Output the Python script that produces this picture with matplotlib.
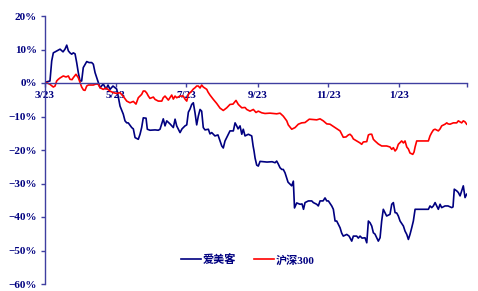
import matplotlib
matplotlib.use('Agg')
import matplotlib.pyplot as plt
import matplotlib.dates as mdates
import pandas as pd
from matplotlib.ticker import FuncFormatter

# 区间起点（累计涨跌幅，%）
start = pd.Timestamp('2021-03-23')
end = pd.Timestamp('2022-03-23')

# 爱美客
imeik_days = [0.9, 4.3, 5.8, 7.2, 10.4, 13, 15.6, 17.3, 18.8, 20.2, 21.6, 23.1, 24.5, 26, 27.4, 28.8,
              30.3, 31.7, 33.1, 36.1, 38.1, 40.4, 41.8, 43.3, 46.1, 47.6, 50.4, 52.8, 54.5, 56.2, 58.8,
              62, 63.1, 64.9, 67.7, 69.2, 70.7, 72, 75, 76.4, 77.9, 80.7, 82.2, 83.6, 85, 87.4, 88.5,
              90.8, 95.2, 98, 99.5, 102.3, 103.8, 105.3, 108.1, 111, 112.5, 113.9, 116.8, 118.5, 121.1,
              122.6, 124, 125.4, 126.9, 128.3, 129.8, 131.2, 132.6, 134.1, 135.5, 136.9, 138.4, 141.3,
              142.7, 144.2, 147, 149.6, 151.4, 152.9, 154.2, 155.7, 158.6, 160, 162.9, 164.4, 165.8,
              167, 168.7, 170.2, 171.5, 173, 175.9, 178.8, 180, 180.8, 181.7, 183.1, 184.5, 186, 188.8,
              192, 196.4, 199, 200.4, 201.8, 203.3, 204.8, 206.1, 207.6, 209.1, 210.2, 211.9, 213.4,
              214.8, 215.8, 217.7, 220.6, 222.3, 223.6, 224.9, 227.8, 230.7, 232.1, 235, 236.4, 237.9,
              240.5, 242.2, 243.7, 245.1, 248, 249.4, 250.9, 252.3, 253.7, 255.2, 256.6, 258, 261, 263,
              265.3, 266.7, 269.6, 271, 272.5, 274.2, 276.8, 278.3, 279.7, 281.1, 282.6, 284, 285.4,
              288.3, 289.8, 291.2, 292.6, 294.1, 295.5, 298.4, 299.9, 301.3, 302.8, 304.2, 305.6, 307.1,
              310, 311.4, 312.9, 314.3, 315.7, 317.2, 318.6, 320.1, 324.4, 328.7, 331.6, 333, 334.5,
              335.9, 337.4, 338.8, 340.2, 341.7, 343.1, 346, 348.6, 351.8, 352.9, 354, 356.1, 357.5,
              359, 360.4, 361.8, 363.3, 364.7]
imeik_ret = [0.3, 0.6, 6.6, 9.0, 9.6, 10.1, 9.3, 10.1, 11.3, 9.6, 9.0, 8.6, 9.0, 8.7, 6.1, 3.1,
             0.6, 0.6, 4.6, 6.4, 6.1, 6.1, 5.6, 3.1, 0.1, -1.4, -0.3, -1.8, -0.6, -1.9, -0.9,
             -1.8, -3.6, -6.9, -9.3, -11.3, -11.9, -11.9, -13.3, -13.7, -16.3, -16.8, -15.3, -13.3, -10.4, -10.5, -13.8,
             -14.1, -14.0, -14.1, -13.8, -10.7, -12.8, -11.3, -12.2, -13.3, -10.8, -12.8, -14.8, -13.7, -12.8,
             -12.5, -8.7, -7.8, -6.4, -5.9, -9.0, -12.5, -9.9, -7.9, -8.4, -13.3, -14.0, -13.8,
             -15.2, -14.8, -15.8, -15.5, -17.3, -18.8, -19.4, -17.3, -15.3, -14.3, -14.3, -11.9, -12.8,
             -13.7, -12.8, -15.3, -13.8, -15.8, -15.3, -15.8, -18.8, -20.3, -22.4, -24.5, -24.8, -23.4, -23.5,
             -23.6, -23.5, -23.8, -23.3, -24.2, -25.3, -25.8, -25.8, -26.8, -28.4, -29.6, -30.2, -30.7,
             -29.3, -37.3, -35.8, -36.2, -36.1, -37.7, -35.7, -35.2, -35.2, -35.7, -36.2, -36.7, -35.2,
             -35.2, -34.3, -35.2, -35.2, -36.7, -37.7, -41.2, -41.2, -42.2, -43.2, -44.8, -45.7, -45.2, -45.7,
             -47.2, -45.7, -45.7, -46.3, -45.7, -46.3, -46.2, -47.7, -41.2, -41.7, -42.7, -44.7, -45.1,
             -47.2, -46.2, -41.2, -37.7, -38.7, -39.7, -39.2, -36.2, -35.7, -38.7, -38.8, -39.7, -41.2,
             -42.7, -44.2, -45.2, -46.7, -45.2, -43.2, -41.2, -37.7, -37.7, -37.7, -37.7, -36.7, -37.2,
             -36.7, -35.7, -36.7, -37.7, -36.2, -37.2, -36.7, -36.7, -37.2, -37.0, -31.7, -32.2, -32.7,
             -33.7, -32.2, -30.7, -34.2, -33.2]

# 沪深300
hs300_days = [1.5, 4.3, 7.2, 8.7, 10.1, 11.5, 13, 15.8, 18.2, 20.2, 21.6, 23.4, 24.5, 26.8, 28.8, 30.3,
              31.7, 33.3, 34.6, 36.1, 37.5, 41.8, 44.1, 46.1, 47.6, 50.4, 52.8, 56.2, 59.1, 62, 64.9,
              67.7, 70.7, 73.5, 76.4, 78.7, 80.7, 83.6, 85, 86.5, 88, 89.4, 90.8, 93.7, 95.2, 98, 101,
              102.3, 103.8, 106.7, 109.6, 111, 112.5, 113.9, 116.8, 119.6, 121.1, 122.6, 124, 126.9,
              128.3, 129.8, 131.2, 132.6, 134.1, 135.5, 136.9, 139.9, 141, 142.7, 145.6, 148.5, 151.4,
              154.2, 157.2, 160, 162.6, 165.2, 167.2, 170.2, 173, 174.5, 177.3, 180.2, 182.5, 184.5,
              187.5, 190.3, 194.6, 200.4, 203.3, 206.1, 209.1, 210.4, 213.4, 216.3, 219.1, 222, 224.9,
              228.6, 231.8, 235, 237.9, 240.7, 243.7, 246.5, 250.9, 253.4, 255.2, 258, 260.4, 262.4,
              263.8, 265.3, 266.7, 269.6, 272.5, 273.9, 275.3, 278.3, 279.7, 281.1, 282.6, 284, 285.4,
              288.3, 291.2, 295.5, 298.4, 299.9, 301.3, 302.8, 304.2, 305.6, 307.1, 308.5, 310, 311.4,
              312.9, 314.3, 315.7, 318.1, 319.2, 320.1, 321.5, 324.4, 328.7, 331.6, 333, 334.5, 336,
              337.4, 340.2, 341.7, 343.1, 346, 347.5, 348.6, 350.3, 353.2, 356.1, 357.5, 360.4, 361.8,
              363.3, 364.7]
hs300_ret = [0.1, -0.4, -1.2, -0.9, 0.6, 1.1, 1.5, 2.1, 1.8, 2.1, 1.1, 1.0, 1.6, 2.6, 1.6, 0.1,
             -1.2, -2.1, -2.2, -0.9, -0.6, -0.6, -0.3, -0.4, -1.4, -1.9, -1.5, -2.4, -2.9, -3.1, -2.9,
             -4.0, -5.4, -5.9, -5.5, -6.3, -4.4, -3.4, -2.4, -2.4, -3.0, -3.9, -4.6, -4.2, -4.9, -5.4, -5.4,
             -4.4, -3.9, -5.1, -3.6, -4.8, -3.9, -4.4, -3.9, -3.9, -4.8, -5.4, -3.4, -2.4,
             -1.8, -1.4, -0.9, -0.9, -1.5, -0.6, -1.2, -1.9, -2.7, -3.6, -4.9, -6.1, -7.5,
             -8.2, -7.4, -6.4, -6.3, -5.2, -6.4, -7.4, -7.3, -7.9, -8.4, -7.9, -8.8, -8.4,
             -8.9, -9.1, -9.0, -9.2, -9.0, -9.9, -11.3, -12.5, -13.8, -13.3, -12.3, -11.9, -11.8,
             -10.8, -10.9, -11.0, -10.7, -11.3, -12.2, -12.3, -13.3, -13.9, -14.3, -16.2, -16.1, -15.5,
             -15.3, -15.8, -16.7, -17.3, -17.9, -18.3, -17.6, -17.5, -15.5, -15.3, -15.3, -16.8, -17.3,
             -18.2, -18.8, -18.8, -19.1, -19.8, -19.3, -20.3, -19.7, -18.3, -17.8, -17.3, -17.9, -17.3,
             -19.1, -19.7, -20.9, -21.3, -20.6, -19.1, -17.3, -17.3, -17.3, -17.3, -15.8, -14.8, -14.0,
             -13.8, -14.3, -13.7, -12.8, -12.3, -11.9, -12.2, -12.3, -11.9, -11.9, -11.3, -11.9, -11.3,
             -11.6, -12.3]

tick_dates = ['2021-03-23', '2021-05-23', '2021-07-23', '2021-09-23', '2021-11-23', '2022-01-23', '2022-03-23']
tick_labels = ['3/23', '5/23', '7/23', '9/23', '11/23', '1/23', '']
y_ticks = [20, 10, 0, -10, -20, -30, -40, -50, -60]

navy = '#000080'
axis_c = '#3f3fa0'

fig = plt.figure(figsize=(4.78, 2.91), dpi=100)
ax = fig.add_axes([45 / 478, 7 / 291, 422 / 478, 268 / 291])

x1 = start + pd.to_timedelta(imeik_days, unit='D')
x2 = start + pd.to_timedelta(hs300_days, unit='D')
ax.plot(x1, imeik_ret, color=navy, lw=1.2, label='爱美客')
ax.plot(x2, hs300_ret, color='#ff0000', lw=1.2, label='沪深300')

ax.set_xlim(start, end)
ax.set_ylim(-60, 20)
ax.set_yticks(y_ticks)
ax.yaxis.set_major_formatter(FuncFormatter(lambda v, p: ('\u2212%d%%' % -v) if v < 0 else '%d%%' % v))
ax.set_xticks(pd.to_datetime(tick_dates))
ax.set_xticklabels(tick_labels)

for s in ['top', 'right']:
    ax.spines[s].set_visible(False)
ax.spines['bottom'].set_position(('data', 0))
ax.spines['bottom'].set_color(axis_c)
ax.spines['left'].set_color(axis_c)
ax.spines['bottom'].set_linewidth(1.0)
ax.spines['left'].set_linewidth(1.0)
ax.tick_params(axis='both', colors=axis_c, length=3, width=1.0, direction='out')
ax.tick_params(axis='x', pad=3)
ax.tick_params(axis='y', pad=3)

for lab in ax.get_xticklabels() + ax.get_yticklabels():
    lab.set_fontfamily('Liberation Serif')
    lab.set_fontweight('bold')
    lab.set_fontsize(8)
    lab.set_color(navy)

leg = ax.legend(loc='center', bbox_to_anchor=(0.481, 0.09), ncol=2, frameon=False,
                handlelength=1.8, handletextpad=0.15, columnspacing=1.6,
                prop={'family': ['Liberation Serif', 'Noto Sans CJK SC'], 'weight': 'bold', 'size': 8})
for t in leg.get_texts():
    t.set_color(navy)

plt.savefig('out.png', dpi=100)
